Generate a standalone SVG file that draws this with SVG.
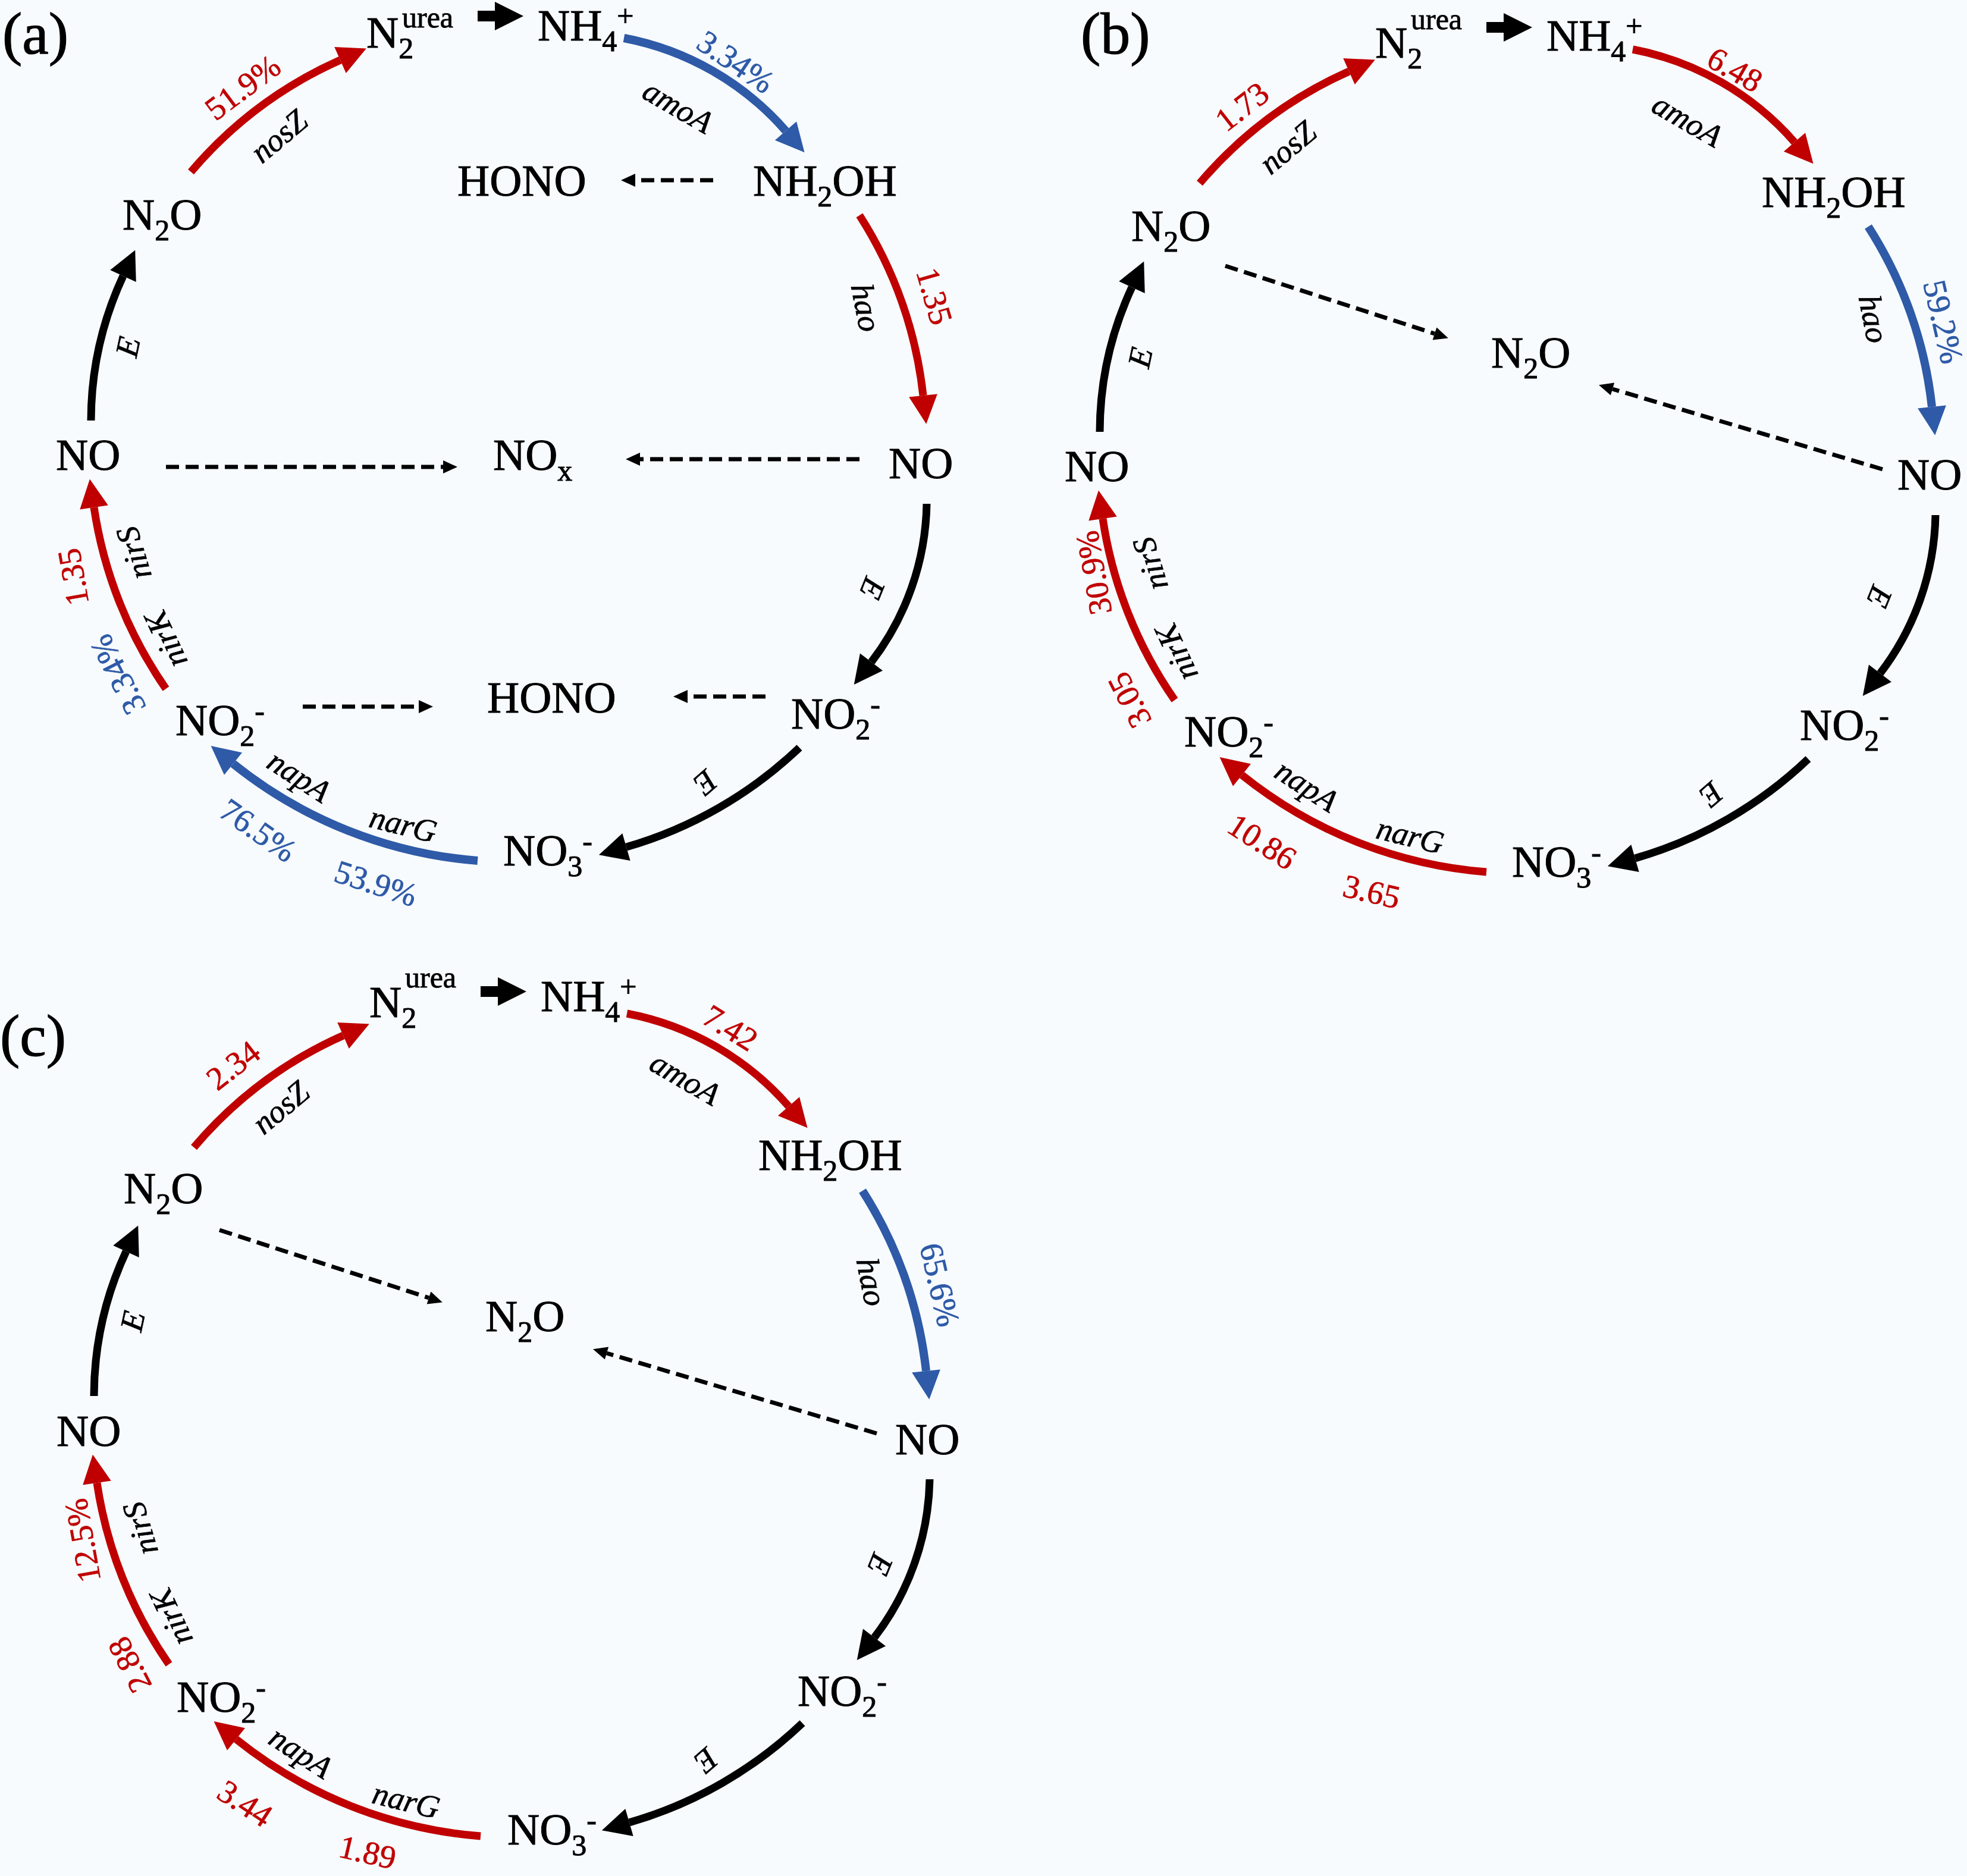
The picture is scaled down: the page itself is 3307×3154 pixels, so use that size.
<svg xmlns="http://www.w3.org/2000/svg" width="3307" height="3154" viewBox="0 0 3307 3154">
<style>
.n{font-family:"Liberation Serif","Times New Roman",serif;font-size:75px;fill:#000;stroke:#000;stroke-width:1px}
.s{font-size:50px}
.u{font-family:"Liberation Serif","Times New Roman",serif;font-size:50px;fill:#000;stroke:#000;stroke-width:0.8px}
.lb{font-family:"Liberation Serif","Times New Roman",serif;font-size:100px;fill:#000;stroke:#000;stroke-width:1.2px}
.g{font-family:"Liberation Serif","Times New Roman",serif;font-style:italic;font-size:54px;fill:#000;stroke:#000;stroke-width:0.7px;text-anchor:middle;dominant-baseline:central}
.v{font-family:"Liberation Serif","Times New Roman",serif;font-size:55px;text-anchor:middle;dominant-baseline:central;stroke-width:0.7px}
.red{fill:#C00000;stroke:#C00000}
.blue{fill:#2E5AA7;stroke:#2E5AA7}
.ar{fill:none;stroke-width:13;stroke-linecap:butt}
.rs{stroke:#C00000}
.bs{stroke:#2E5AA7;stroke-width:14}
.ks{stroke:#000}
.da{fill:none;stroke:#000;stroke-width:7;stroke-dasharray:22 11}
</style>
<defs>
<marker id="hr" markerUnits="userSpaceOnUse" markerWidth="48" markerHeight="48" refX="0" refY="24" orient="auto" overflow="visible"><path d="M0,0 L48,24 L0,48 Z" fill="#C00000"/></marker>
<marker id="hb" markerUnits="userSpaceOnUse" markerWidth="48" markerHeight="48" refX="0" refY="24" orient="auto" overflow="visible"><path d="M0,0 L48,24 L0,48 Z" fill="#2E5AA7"/></marker>
<marker id="hk" markerUnits="userSpaceOnUse" markerWidth="48" markerHeight="48" refX="0" refY="24" orient="auto" overflow="visible"><path d="M0,0 L48,24 L0,48 Z" fill="#000"/></marker>
<marker id="hd" markerUnits="userSpaceOnUse" markerWidth="24" markerHeight="22" refX="0" refY="11" orient="auto" overflow="visible"><path d="M0,0 L24,11 L0,22 Z" fill="#000"/></marker>
</defs>
<rect x="0" y="0" width="3307" height="3154" fill="#F7FBFE"/>

<!-- Panel (a) -->
<g id="panel-a">
<text id="label-a" class="lb" x="4" y="90">(a)</text>
<g id="a-connectors">
<path d="M803,27 H832" stroke="#000" stroke-width="18" marker-end="url(#hk)"/>
<path class="ar rs" marker-end="url(#hr)" d="M321,289 A705,705 0 0 1 572,101"/>
<path class="ar bs" marker-end="url(#hb)" d="M1049,64 A480,480 0 0 1 1321,220"/>
<path class="ar rs" marker-end="url(#hr)" d="M1445,362 A705,705 0 0 1 1552,665"/>
<path class="ar ks" marker-end="url(#hk)" d="M1558,847 A450,450 0 0 1 1465,1113"/>
<path class="ar ks" marker-end="url(#hk)" d="M1344,1257 A705,705 0 0 1 1053,1424"/>
<path class="ar bs" marker-end="url(#hb)" d="M803,1447 A750,750 0 0 1 392,1284"/>
<path class="ar rs" marker-end="url(#hr)" d="M279,1158 A720,720 0 0 1 158,853"/>
<path class="ar ks" marker-end="url(#hk)" d="M153,707 A580,580 0 0 1 207,464"/>
<path class="da" marker-end="url(#hd)" d="M1199,303 H1068"/>
<path class="da" marker-end="url(#hd)" d="M279,785 H745"/>
<path class="da" marker-end="url(#hd)" d="M1445,772 H1076"/>
<path class="da" marker-end="url(#hd)" d="M509,1188 H704"/>
<path class="da" marker-end="url(#hd)" d="M1287,1171 H1156"/>
<text class="v red" transform="translate(408,147) rotate(-37)">51.9%</text>
<text class="g" transform="translate(469,229) rotate(-40)">nosZ</text>
<text class="v blue" transform="translate(1237,104) rotate(34)">3.34%</text>
<text class="g" transform="translate(1140,179) rotate(30)">amoA</text>
<text class="g" transform="translate(1456,517) rotate(79)">hao</text>
<text class="v red" transform="translate(1571,498) rotate(74)">1.35</text>
<text class="g" transform="translate(1467,989) rotate(112)">E</text>
<text class="g" transform="translate(1186,1316) rotate(139)">E</text>
<text class="g" transform="translate(503,1305) rotate(33)">napA</text>
<text class="g" transform="translate(678,1386) rotate(14)">narG</text>
<text class="v blue" transform="translate(434,1396) rotate(35)">76.5%</text>
<text class="v blue" transform="translate(632,1485) rotate(18)">53.9%</text>
<text class="v blue" transform="translate(198,1134) rotate(-117)">3.34%</text>
<text class="g" transform="translate(279,1075) rotate(-115)">nirK</text>
<text class="v red" transform="translate(123,970) rotate(-100)">1.35</text>
<text class="g" transform="translate(225,930) rotate(-107)">nirS</text>
<text class="g" transform="translate(215,583) rotate(-78)">E</text>
</g>
<g id="a-N2urea"><text class="n" x="616" y="80">N<tspan class="s" dy="18">2</tspan></text><text class="u" x="676" y="46">urea</text></g>
<g id="a-NH4"><text class="n" x="904" y="68">NH<tspan class="s" dy="18">4</tspan><tspan class="s" dy="-42">+</tspan></text></g>
<g id="a-NH2OH"><text class="n" x="1266" y="329">NH<tspan class="s" dy="18">2</tspan><tspan dy="-18">OH</tspan></text></g>
<g id="a-HONO-top"><text class="n" x="769" y="329">HONO</text></g>
<g id="a-N2O"><text class="n" x="206" y="386">N<tspan class="s" dy="18">2</tspan><tspan dy="-18">O</tspan></text></g>
<g id="a-NO-left"><text class="n" x="94" y="790">NO</text></g>
<g id="a-NOx"><text class="n" x="829" y="790">NO<tspan class="s" dy="18">x</tspan></text></g>
<g id="a-NO-right"><text class="n" x="1494" y="804">NO</text></g>
<g id="a-NO2-left"><text class="n" x="295" y="1236">NO<tspan class="s" dy="18">2</tspan><tspan class="s" dy="-42">-</tspan></text></g>
<g id="a-HONO-bottom"><text class="n" x="819" y="1198">HONO</text></g>
<g id="a-NO2-right"><text class="n" x="1330" y="1225">NO<tspan class="s" dy="18">2</tspan><tspan class="s" dy="-42">-</tspan></text></g>
<g id="a-NO3"><text class="n" x="846" y="1455">NO<tspan class="s" dy="18">3</tspan><tspan class="s" dy="-42">-</tspan></text></g>
</g>

<!-- Panel (b) -->
<text id="label-b" class="lb" x="1817" y="90">(b)</text>
<g id="panel-b" transform="translate(1696,19)">
<g id="b-connectors">
<path d="M803,27 H832" stroke="#000" stroke-width="18" marker-end="url(#hk)"/>
<path class="ar rs" marker-end="url(#hr)" d="M321,289 A705,705 0 0 1 572,101"/>
<path class="ar rs" marker-end="url(#hr)" d="M1049,64 A480,480 0 0 1 1321,220"/>
<path class="ar bs" marker-end="url(#hb)" d="M1445,362 A705,705 0 0 1 1552,665"/>
<path class="ar ks" marker-end="url(#hk)" d="M1558,847 A450,450 0 0 1 1465,1113"/>
<path class="ar ks" marker-end="url(#hk)" d="M1344,1257 A705,705 0 0 1 1053,1424"/>
<path class="ar rs" marker-end="url(#hr)" d="M803,1447 A750,750 0 0 1 392,1284"/>
<path class="ar rs" marker-end="url(#hr)" d="M279,1158 A720,720 0 0 1 158,853"/>
<path class="ar ks" marker-end="url(#hk)" d="M153,707 A580,580 0 0 1 207,464"/>
<path class="da" marker-end="url(#hd)" d="M364,428 L716,542"/>
<path class="da" marker-end="url(#hd)" d="M1469,770 L1015,635"/>
<text class="v red" transform="translate(392,160) rotate(-38)">1.73</text>
<text class="g" transform="translate(469,229) rotate(-40)">nosZ</text>
<text class="v red" transform="translate(1221,98) rotate(30)">6.48</text>
<text class="g" transform="translate(1141,183) rotate(30)">amoA</text>
<text class="g" transform="translate(1454,517) rotate(79)">hao</text>
<text class="v blue" transform="translate(1571,522) rotate(77)">59.2%</text>
<text class="g" transform="translate(1464,984) rotate(112)">E</text>
<text class="g" transform="translate(1181,1317) rotate(139)">E</text>
<text class="g" transform="translate(501,1302) rotate(33)">napA</text>
<text class="g" transform="translate(675,1386) rotate(14)">narG</text>
<text class="v red" transform="translate(426,1396) rotate(33)">10.86</text>
<text class="v red" transform="translate(610,1480) rotate(13)">3.65</text>
<text class="v red" transform="translate(203,1158) rotate(-117)">3.05</text>
<text class="g" transform="translate(282,1078) rotate(-115)">nirK</text>
<text class="g" transform="translate(238,929) rotate(-107)">nirS</text>
<text class="v red" transform="translate(143,944) rotate(-100)">30.9%</text>
<text class="g" transform="translate(221,582) rotate(-78)">E</text>
</g>
<g id="b-N2urea"><text class="n" x="616" y="78">N<tspan class="s" dy="18">2</tspan></text><text class="u" x="676" y="30">urea</text></g>
<g id="b-NH4"><text class="n" x="904" y="66">NH<tspan class="s" dy="18">4</tspan><tspan class="s" dy="-42">+</tspan></text></g>
<g id="b-NH2OH"><text class="n" x="1266" y="329">NH<tspan class="s" dy="18">2</tspan><tspan dy="-18">OH</tspan></text></g>
<g id="b-N2O"><text class="n" x="206" y="386">N<tspan class="s" dy="18">2</tspan><tspan dy="-18">O</tspan></text></g>
<g id="b-N2O-center"><text class="n" x="811" y="599">N<tspan class="s" dy="18">2</tspan><tspan dy="-18">O</tspan></text></g>
<g id="b-NO-left"><text class="n" x="94" y="790">NO</text></g>
<g id="b-NO-right"><text class="n" x="1494" y="804">NO</text></g>
<g id="b-NO2-left"><text class="n" x="295" y="1236">NO<tspan class="s" dy="18">2</tspan><tspan class="s" dy="-42">-</tspan></text></g>
<g id="b-NO2-right"><text class="n" x="1330" y="1225">NO<tspan class="s" dy="18">2</tspan><tspan class="s" dy="-42">-</tspan></text></g>
<g id="b-NO3"><text class="n" x="846" y="1455">NO<tspan class="s" dy="18">3</tspan><tspan class="s" dy="-42">-</tspan></text></g>
</g>

<!-- Panel (c) -->
<text id="label-c" class="lb" x="0" y="1775">(c)</text>
<g id="panel-c" transform="translate(5,1640)">
<g id="c-connectors">
<path d="M803,27 H832" stroke="#000" stroke-width="18" marker-end="url(#hk)"/>
<path class="ar rs" marker-end="url(#hr)" d="M321,289 A705,705 0 0 1 572,101"/>
<path class="ar rs" marker-end="url(#hr)" d="M1049,64 A480,480 0 0 1 1321,220"/>
<path class="ar bs" marker-end="url(#hb)" d="M1445,362 A705,705 0 0 1 1552,665"/>
<path class="ar ks" marker-end="url(#hk)" d="M1558,847 A450,450 0 0 1 1465,1113"/>
<path class="ar ks" marker-end="url(#hk)" d="M1344,1257 A705,705 0 0 1 1053,1424"/>
<path class="ar rs" marker-end="url(#hr)" d="M803,1447 A750,750 0 0 1 392,1284"/>
<path class="ar rs" marker-end="url(#hr)" d="M279,1158 A720,720 0 0 1 158,853"/>
<path class="ar ks" marker-end="url(#hk)" d="M153,707 A580,580 0 0 1 207,464"/>
<path class="da" marker-end="url(#hd)" d="M364,428 L716,542"/>
<path class="da" marker-end="url(#hd)" d="M1469,770 L1015,635"/>
<text class="v red" transform="translate(387,151) rotate(-38)">2.34</text>
<text class="g" transform="translate(467,222) rotate(-40)">nosZ</text>
<text class="v red" transform="translate(1223,88) rotate(32)">7.42</text>
<text class="g" transform="translate(1147,173) rotate(30)">amoA</text>
<text class="g" transform="translate(1460,515) rotate(79)">hao</text>
<text class="v blue" transform="translate(1575,520) rotate(77)">65.6%</text>
<text class="g" transform="translate(1475,990) rotate(112)">E</text>
<text class="g" transform="translate(1182,1320) rotate(139)">E</text>
<text class="g" transform="translate(501,1306) rotate(33)">napA</text>
<text class="g" transform="translate(678,1387) rotate(14)">narG</text>
<text class="v red" transform="translate(407,1392) rotate(33)">3.44</text>
<text class="v red" transform="translate(613,1474) rotate(13)">1.89</text>
<text class="v red" transform="translate(213,1159) rotate(-117)">2.88</text>
<text class="g" transform="translate(283,1079) rotate(-115)">nirK</text>
<text class="g" transform="translate(231,930) rotate(-107)">nirS</text>
<text class="v red" transform="translate(134,950) rotate(-100)">12.5%</text>
<text class="g" transform="translate(218,581) rotate(-78)">E</text>
</g>
<g id="c-N2urea"><text class="n" x="616" y="70">N<tspan class="s" dy="18">2</tspan></text><text class="u" x="676" y="20">urea</text></g>
<g id="c-NH4"><text class="n" x="904" y="60">NH<tspan class="s" dy="18">4</tspan><tspan class="s" dy="-42">+</tspan></text></g>
<g id="c-NH2OH"><text class="n" x="1270" y="327">NH<tspan class="s" dy="18">2</tspan><tspan dy="-18">OH</tspan></text></g>
<g id="c-N2O"><text class="n" x="203" y="383">N<tspan class="s" dy="18">2</tspan><tspan dy="-18">O</tspan></text></g>
<g id="c-N2O-center"><text class="n" x="811" y="598">N<tspan class="s" dy="18">2</tspan><tspan dy="-18">O</tspan></text></g>
<g id="c-NO-left"><text class="n" x="90" y="791">NO</text></g>
<g id="c-NO-right"><text class="n" x="1500" y="805">NO</text></g>
<g id="c-NO2-left"><text class="n" x="292" y="1238">NO<tspan class="s" dy="18">2</tspan><tspan class="s" dy="-42">-</tspan></text></g>
<g id="c-NO2-right"><text class="n" x="1336" y="1228">NO<tspan class="s" dy="18">2</tspan><tspan class="s" dy="-42">-</tspan></text></g>
<g id="c-NO3"><text class="n" x="848" y="1461">NO<tspan class="s" dy="18">3</tspan><tspan class="s" dy="-42">-</tspan></text></g>
</g>
</svg>
